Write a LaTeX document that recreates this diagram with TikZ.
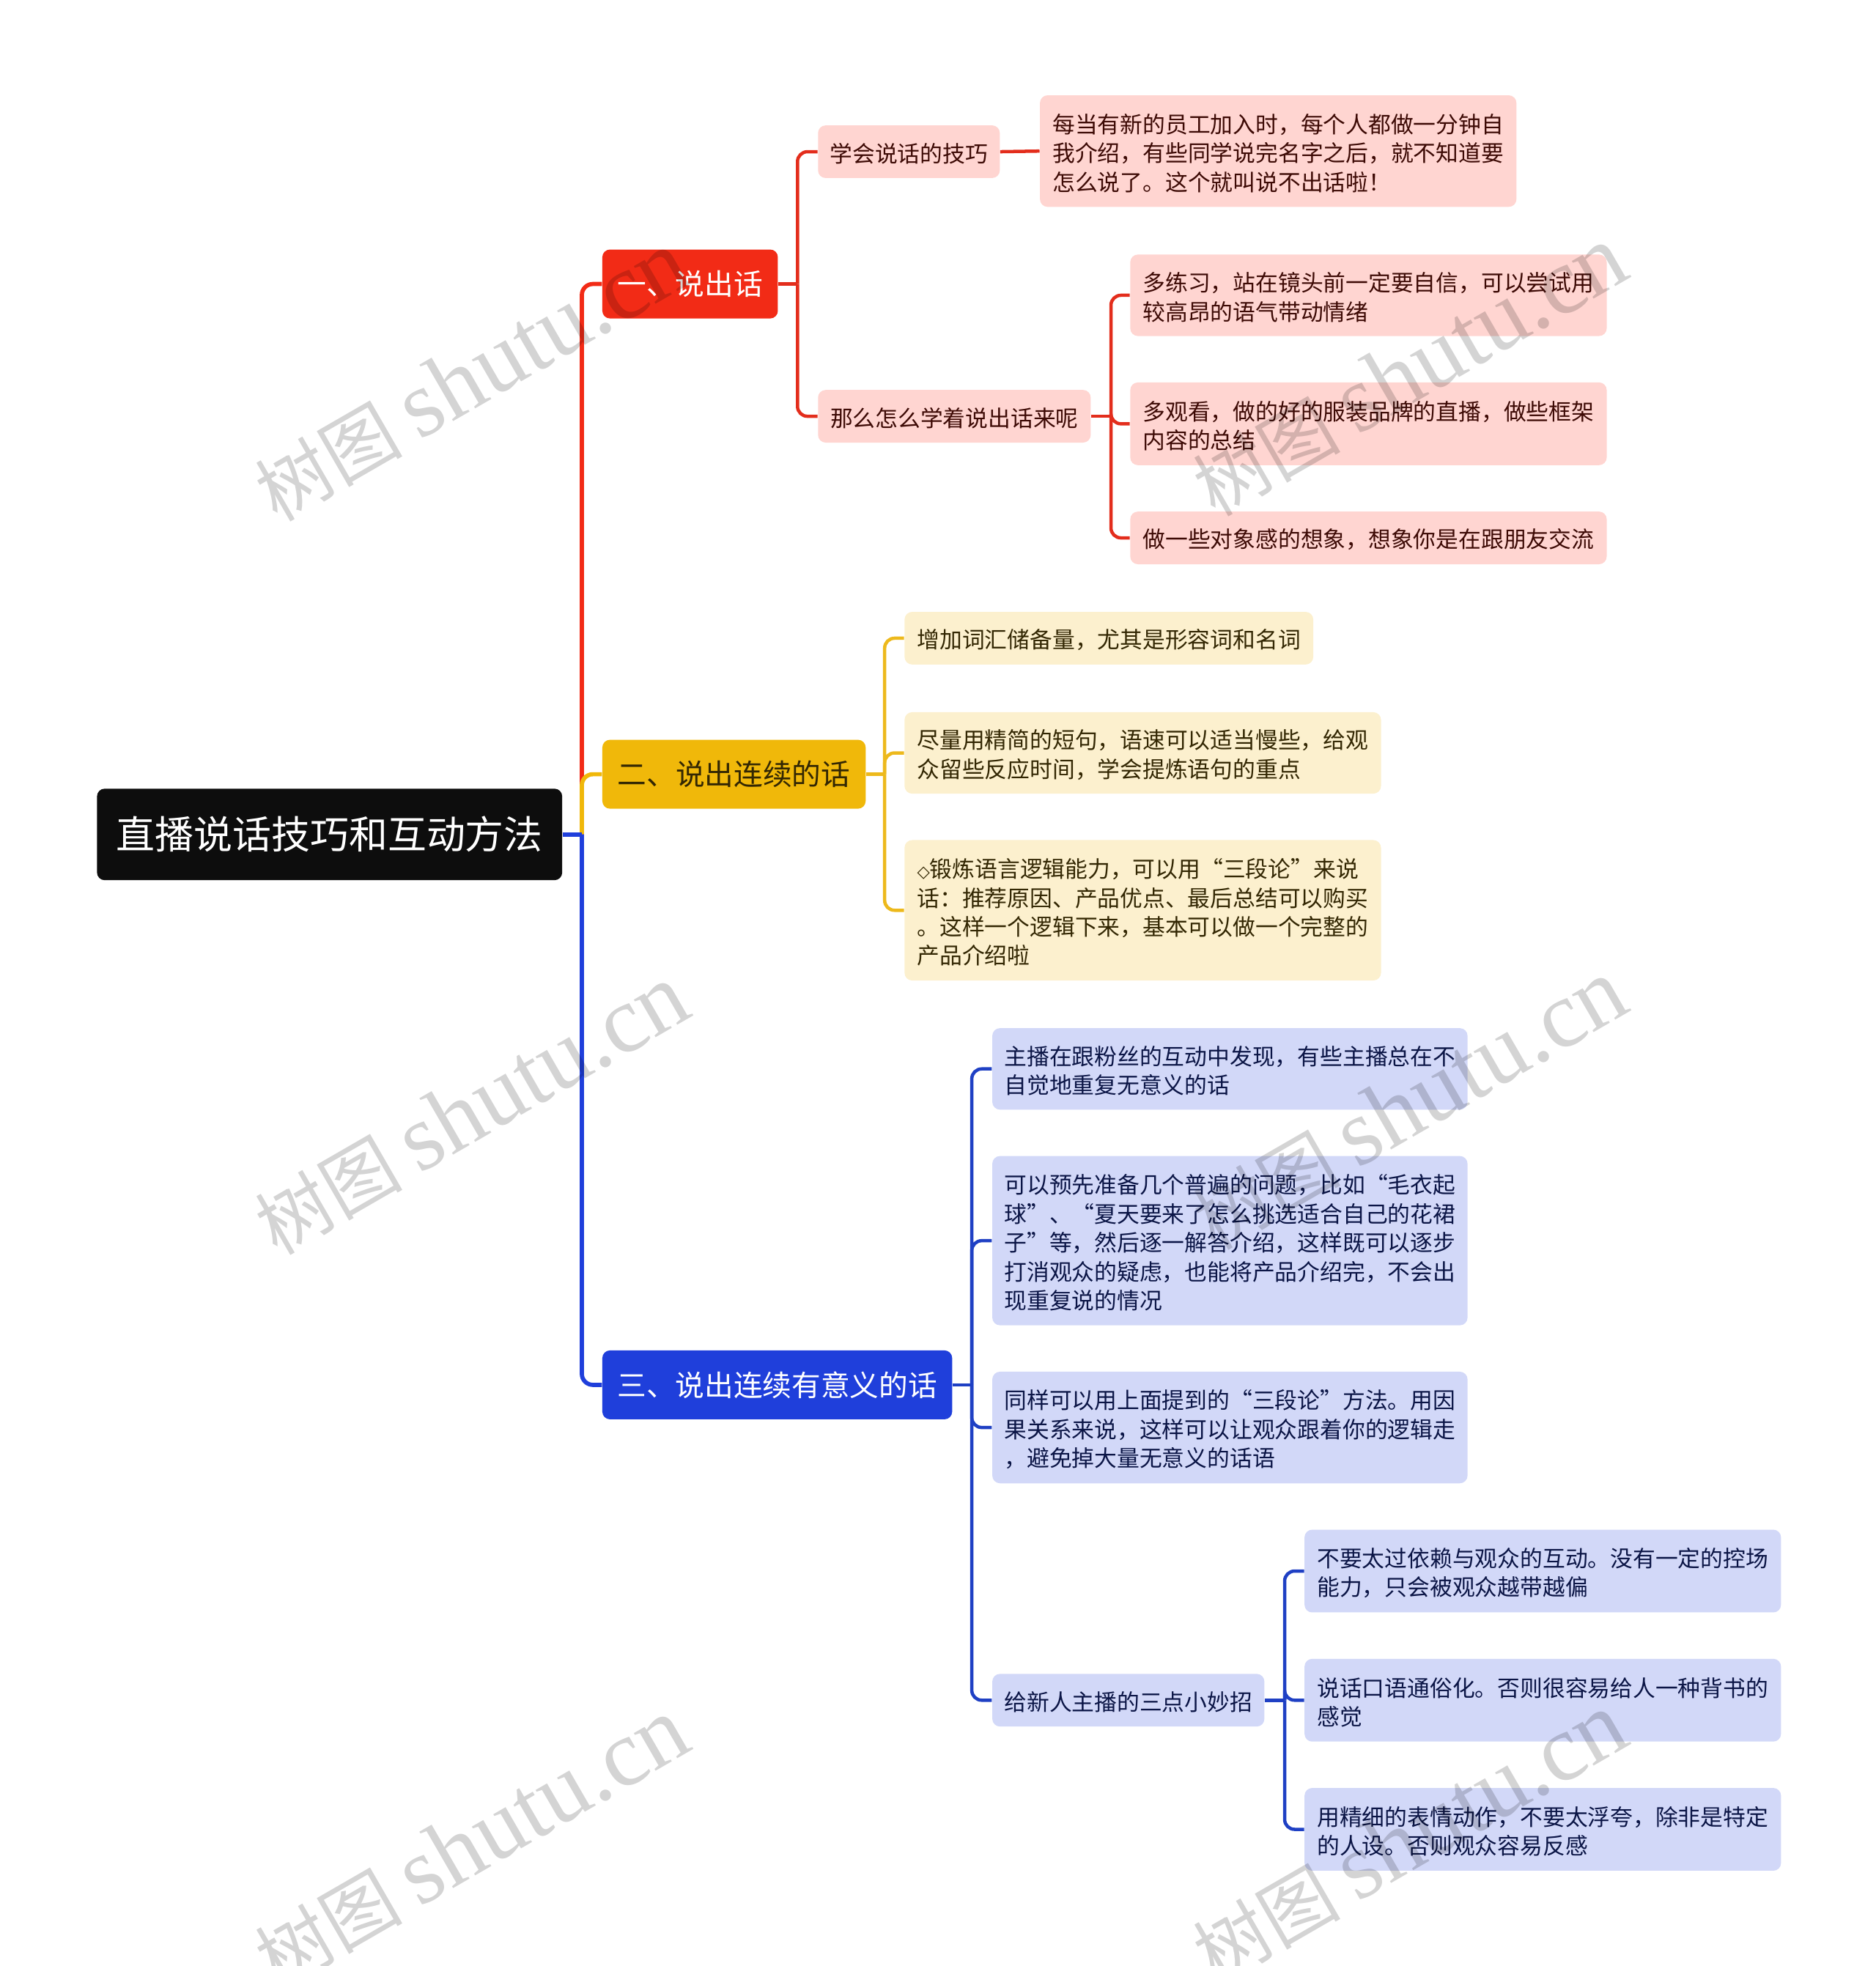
\documentclass[tikz,border=0pt]{standalone}
\usepackage{fontspec}
\setmainfont{Noto Sans CJK SC}
\newfontfamily\MarkFont{Liberation Serif}
\newfontfamily\DiamondFont{DejaVu Sans}
\definecolor{RootBlack}{HTML}{0D0D0D}
\definecolor{RedMain}{HTML}{F22B16}
\definecolor{RedLine}{HTML}{E32D1C}
\definecolor{RedLeaf}{HTML}{FFD5D1}
\definecolor{RedText}{HTML}{3D0A05}
\definecolor{YellowMain}{HTML}{F0B80A}
\definecolor{YellowLine}{HTML}{EDB91C}
\definecolor{YellowLeaf}{HTML}{FCF0CE}
\definecolor{YellowText}{HTML}{332703}
\definecolor{BlueMain}{HTML}{1F3FDB}
\definecolor{BlueLine}{HTML}{1F40C4}
\definecolor{BlueLeaf}{HTML}{D2D8F8}
\definecolor{BlueText}{HTML}{0B1546}
\newcommand{\MarkText}{{\fontsize{33.5}{38}\selectfont 树图 }{\MarkFont\fontsize{43}{43}\selectfont shutu.cn}}
\begin{document}
\begin{tikzpicture}[x=0.02cm,y=-0.02cm,
  box/.style 2 args={anchor=west,align=left,inner sep=0pt,rounded corners=3.5pt,minimum width=#1*0.02cm,minimum height=#2*0.02cm},
  roottext/.style={font=\fontsize{17.6}{22}\selectfont},
  maintext/.style={font=\fontsize{13.2}{16}\selectfont},
  leaftext/.style={font=\fontsize{10.24}{13.09}\selectfont,text height=10.3pt},
  twolines/.style={text height=23.59pt},
  threelines/.style={text height=36.68pt},
  fourlines/.style={text height=49.77pt},
  fivelines/.style={text height=62.86pt},
  redmain/.style={maintext,fill=RedMain,text=white},
  yellowmain/.style={maintext,fill=YellowMain,text=YellowText},
  bluemain/.style={maintext,fill=BlueMain,text=white},
  redleaf/.style={leaftext,fill=RedLeaf,text=RedText},
  yellowleaf/.style={leaftext,fill=YellowLeaf,text=YellowText},
  blueleaf/.style={leaftext,fill=BlueLeaf,text=BlueText},
  link/.style={line width=1.5pt,rounded corners=4.5pt},
  trunk/.style={line width=1.9pt,rounded corners=5pt},
  watermark/.style={rotate=30,text=black,text opacity=0.17}]

\useasboundingbox (0,0) rectangle (1496,1568);

% root
\node[box={371}{73},roottext,fill=RootBlack,text=white] (root) at (77,665.5) {直播说话技巧和互动方法};

% main topics
\node[box={140}{55},redmain] (speak) at (480,226.5) {一、说出话};
\node[box={210}{55},yellowmain] (flow) at (480,617.5) {二、说出连续的话};
\node[box={279}{55},bluemain] (meaning) at (480,1104.5) {三、说出连续有意义的话};

% red topic
\node[box={145}{42},redleaf] (skill) at (652,121) {学会说话的技巧};
\node[box={380}{89},redleaf,threelines] (intro) at (829,120.5) {每当有新的员工加入时，每个人都做一分钟自\\我介绍，有些同学说完名字之后，就不知道要\\怎么说了。这个就叫说不出话啦！};
\node[box={217.5}{42},redleaf] (how) at (652,332) {那么怎么学着说出话来呢};
\node[box={380}{65},redleaf,twolines] (practice) at (901,235.5) {多练习，站在镜头前一定要自信，可以尝试用\\较高昂的语气带动情绪};
\node[box={380}{66},redleaf,twolines] (watch) at (901,338) {多观看，做的好的服装品牌的直播，做些框架\\内容的总结};
\node[box={380}{42},redleaf] (imagine) at (901,429) {做一些对象感的想象，想象你是在跟朋友交流};

% yellow topic
\node[box={326}{42},yellowleaf] (words) at (721,509) {增加词汇储备量，尤其是形容词和名词};
\node[box={380}{65},yellowleaf,twolines] (short) at (721,600.5) {尽量用精简的短句，语速可以适当慢些，给观\\众留些反应时间，学会提炼语句的重点};
\node[box={380}{112},yellowleaf,fourlines] (logic) at (721,726) {{\DiamondFont\fontsize{7.5}{7.5}\selectfont ◇}锻炼语言逻辑能力，可以用“三段论”来说\\话：推荐原因、产品优点、最后总结可以购买\\。这样一个逻辑下来，基本可以做一个完整的\\产品介绍啦};

% blue topic
\node[box={379}{65},blueleaf,twolines] (repeat) at (791,852.5) {主播在跟粉丝的互动中发现，有些主播总在不\\自觉地重复无意义的话};
\node[box={379}{135},blueleaf,fivelines] (prepare) at (791,989.5) {可以预先准备几个普遍的问题，比如“毛衣起\\球”、“夏天要来了怎么挑选适合自己的花裙\\子”等，然后逐一解答介绍，这样既可以逐步\\打消观众的疑虑，也能将产品介绍完，不会出\\现重复说的情况};
\node[box={379}{89},blueleaf,threelines] (same) at (791,1138.5) {同样可以用上面提到的“三段论”方法。用因\\果关系来说，这样可以让观众跟着你的逻辑走\\，避免掉大量无意义的话语};
\node[box={217}{42},blueleaf] (tips) at (791,1356) {给新人主播的三点小妙招};
\node[box={380}{66},blueleaf,twolines] (rely) at (1040,1253) {不要太过依赖与观众的互动。没有一定的控场\\能力，只会被观众越带越偏};
\node[box={380}{66},blueleaf,twolines] (plain) at (1040,1356) {说话口语通俗化。否则很容易给人一种背书的\\感觉};
\node[box={380}{66},blueleaf,twolines] (face) at (1040,1459) {用精细的表情动作，不要太浮夸，除非是特定\\的人设。否则观众容易反感};

% bus points
\coordinate (rootbus) at (464,665.5);
\coordinate (speakbus) at (636,226.5);
\coordinate (howbus) at (886,332);
\coordinate (flowbus) at (705.5,617.5);
\coordinate (meaningbus) at (775,1104.5);
\coordinate (tipsbus) at (1024.5,1356);

% connectors
\draw[trunk,RedMain] (rootbus) |- (speak.west);
\draw[trunk,YellowMain] (rootbus) |- (flow.west);
\draw[trunk,BlueMain] (rootbus) |- (meaning.west);
\draw[line width=1.9pt,BlueMain] (root.east) -- (rootbus);

\draw[link,RedLine] (speak.east) -- (speakbus);
\draw[link,RedLine] (speakbus) |- (skill.west);
\draw[link,RedLine] (speakbus) |- (how.west);
\draw[link,RedLine] (skill.east) -- (intro.west);
\draw[link,RedLine] (how.east) -- (howbus);
\draw[link,RedLine] (howbus) |- (practice.west);
\draw[link,RedLine] (howbus) |- (watch.west);
\draw[link,RedLine] (howbus) |- (imagine.west);

\draw[link,YellowLine] (flow.east) -- (flowbus);
\draw[link,YellowLine] (flowbus) |- (words.west);
\draw[link,YellowLine] (flowbus) |- (short.west);
\draw[link,YellowLine] (flowbus) |- (logic.west);

\draw[link,BlueLine] (meaning.east) -- (meaningbus);
\draw[link,BlueLine] (meaningbus) |- (repeat.west);
\draw[link,BlueLine] (meaningbus) |- (prepare.west);
\draw[link,BlueLine] (meaningbus) |- (same.west);
\draw[link,BlueLine] (meaningbus) |- (tips.west);
\draw[link,BlueLine] (tips.east) -- (tipsbus);
\draw[link,BlueLine] (tipsbus) |- (rely.west);
\draw[link,BlueLine] (tipsbus) |- (plain.west);
\draw[link,BlueLine] (tipsbus) |- (face.west);

% watermark
\node[watermark] (markA) at (376,300) {\MarkText};
\node[watermark] (markB) at (376,885) {\MarkText};
\node[watermark] (markC) at (376,1470) {\MarkText};
\node[watermark] (markD) at (1124,296) {\MarkText};
\node[watermark] (markE) at (1124,881) {\MarkText};
\node[watermark] (markF) at (1124,1466) {\MarkText};

\end{tikzpicture}
\end{document}
